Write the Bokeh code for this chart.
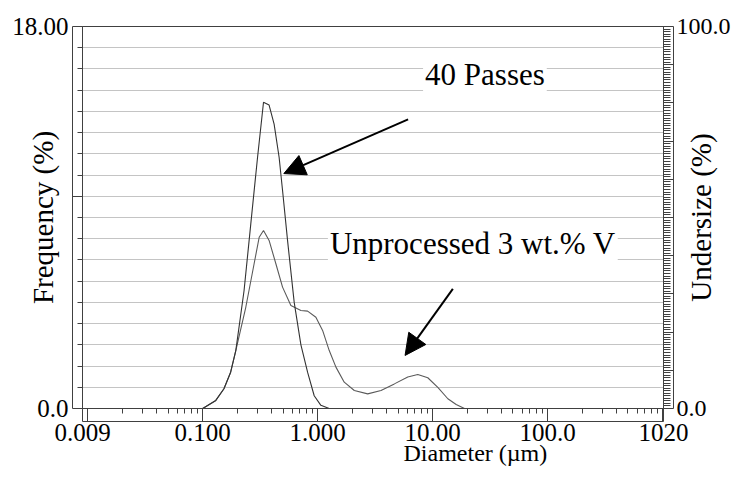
import math
from bokeh.plotting import figure
from bokeh.models import (Range1d, LinearAxis, LogAxis, FixedTicker, Arrow,
                          NormalHead, Title, Label)
from bokeh.core.properties import value
from bokeh.embed import file_html
from bokeh.resources import INLINE

# ---------------- data ----------------
diam_40 = [0.100, 0.130, 0.153, 0.175, 0.194, 0.229, 0.262, 0.300, 0.338, 0.378,
           0.418, 0.462, 0.495, 0.547, 0.625, 0.715, 0.818, 0.933, 1.067, 1.260]
freq_40 = [0.0, 0.38, 0.93, 1.71, 2.73, 5.56, 8.70, 11.84, 14.43, 14.30,
           13.40, 11.84, 10.27, 7.92, 5.00, 3.00, 1.70, 0.60, 0.15, 0.0]

diam_un = [0.100, 0.130, 0.153, 0.175, 0.194, 0.237, 0.280, 0.310, 0.338, 0.378,
           0.433, 0.495, 0.585, 0.715, 0.818, 0.965, 1.104, 1.261, 1.442, 1.703,
           2.083, 2.724, 3.557, 4.647, 6.080, 7.430, 9.080, 11.10, 13.57, 16.03, 18.93]
freq_un = [0.0, 0.38, 0.93, 1.71, 2.73, 4.77, 6.82, 8.07, 8.39, 7.92,
           6.82, 5.72, 4.85, 4.62, 4.59, 4.30, 3.68, 2.73, 1.95, 1.24,
           0.85, 0.69, 0.85, 1.16, 1.48, 1.60, 1.45, 1.00, 0.46, 0.19, 0.0]

x_tick_values = [0.009, 0.1, 1, 10, 100, 1020]
x_tick_labels = ["0.009", "0.100", "1.000", "10.00", "100.0", "1020"]
left_tick_values = [0, 18]
left_tick_labels = ["0.0", "18.00"]
right_tick_values = [0, 100]
right_tick_labels = ["0.0", "100.0"]

annot_text = ["40 Passes", "Unprocessed 3 wt.% V"]
annot_x = [8.26, 1.228]
annot_y = [15.74, 7.78]

arrow_x0 = [6.12, 15.0]
arrow_y0 = [13.62, 5.64]
arrow_x1 = [0.508, 5.76]
arrow_y1 = [11.07, 2.50]

FONT = "'Liberation Serif', 'Times New Roman', Times, serif"
AX = "#404040"

p = figure(width=738, height=486, frame_width=581, frame_height=382,
           x_axis_type="log",
           x_range=Range1d(0.009, 1020), y_range=Range1d(0, 18),
           output_backend="svg", toolbar_location=None,
           min_border_left=82, min_border_right=75,
           min_border_top=26, min_border_bottom=78)
p.extra_y_ranges = {"u": Range1d(0, 100)}
p.outline_line_color = AX
p.background_fill_color = "white"
p.border_fill_color = "white"

p.xgrid.visible = False
p.ygrid.ticker = FixedTicker(ticks=list(range(1, 18)))
p.ygrid.grid_line_color = "#c4c4c4"
p.ygrid.grid_line_width = 1


def plain_inner(ax, ticks, major_out, minor_out):
    ax.major_tick_out = major_out
    ax.major_tick_in = 0
    ax.minor_tick_out = minor_out
    ax.minor_tick_in = 0
    ax.major_label_overrides = {t: "" for t in ticks}
    ax.major_label_text_font_size = "1px"
    ax.major_label_standoff = 0
    ax.axis_line_color = AX
    ax.major_tick_line_color = AX
    ax.minor_tick_line_color = AX


def labelled_outer(ax, size, standoff):
    ax.major_tick_out = 0
    ax.major_tick_in = 0
    ax.minor_tick_out = 0
    ax.minor_tick_in = 0
    ax.major_label_standoff = standoff
    ax.major_label_text_font = FONT
    ax.major_label_text_font_size = size
    ax.major_label_text_color = "black"
    ax.axis_line_color = AX
    ax.axis_label_text_font = FONT
    ax.axis_label_text_font_style = "normal"
    ax.axis_label_text_color = "black"


# bottom axes
xin = p.xaxis[0]
x_major_in = [0.009, 0.01, 0.1, 1, 10, 100, 1000, 1020]
xin.ticker = FixedTicker(ticks=x_major_in,
                         minor_ticks=[k * 10.0 ** n for n in range(-2, 3) for k in range(2, 10)])
plain_inner(xin, x_major_in, 13, 5)
xout = LogAxis(ticker=FixedTicker(ticks=x_tick_values),
               major_label_overrides=dict(zip(x_tick_values, x_tick_labels)))
labelled_outer(xout, "25px", 2)
p.add_layout(xout, "below")

# left axes
yin = p.yaxis[0]
y_major_in = [0, 10, 18]
yin.ticker = FixedTicker(ticks=y_major_in, minor_ticks=list(range(0, 19)))
plain_inner(yin, y_major_in, 10, 5)
yout = LinearAxis(ticker=FixedTicker(ticks=left_tick_values),
                  major_label_overrides=dict(zip(left_tick_values, left_tick_labels)),
                  axis_label="Frequency (%)")
labelled_outer(yout, "25px", 4)
yout.axis_label_text_font_size = "29px"
yout.axis_label_standoff = -50
p.add_layout(yout, "left")

# right axes
r_major_in = list(range(0, 101, 10))
rin = LinearAxis(y_range_name="u",
                 ticker=FixedTicker(ticks=r_major_in,
                                    minor_ticks=[i * 10 / 15 for i in range(151)]))
plain_inner(rin, r_major_in, 10, 7)
p.add_layout(rin, "right")
rout = LinearAxis(y_range_name="u", ticker=FixedTicker(ticks=right_tick_values),
                  major_label_overrides=dict(zip(right_tick_values, right_tick_labels)))
labelled_outer(rout, "24px", 3)
p.add_layout(rout, "right")

# right-hand title, reading bottom to top, in the right side panel
p.add_layout(Label(x=-33, y=191, x_units="screen", y_units="screen",
                   text="Undersize (%)", angle=math.pi / 2, text_align="center",
                   text_baseline="middle", text_font=FONT, text_font_size="29px",
                   text_line_height=0.2, text_color="black"), "right")

# x title, shifted right like the reference
p.add_layout(Title(text="Diameter (µm)", align="left", offset=321, standoff=-12,
                   text_font=FONT, text_font_size="24px", text_font_style="normal",
                   text_color="black"), "below")

# curves
p.line(diam_un, freq_un, line_color="#5a5a5a", line_width=1.1)
p.line(diam_40, freq_40, line_color="#333333", line_width=1.1)

# annotations (white text boxes hide the grid lines behind them)
p.text(x=annot_x, y=annot_y, text=annot_text, text_font=value(FONT),
       text_font_size="31px", text_color="black", text_baseline="alphabetic",
       text_align="left", background_fill_color="white", padding=2)
for xs, ys, xe, ye in zip(arrow_x0, arrow_y0, arrow_x1, arrow_y1):
    p.add_layout(Arrow(end=NormalHead(size=21, fill_color="black", line_color="black"),
                       x_start=xs, y_start=ys, x_end=xe, y_end=ye,
                       line_width=2, line_color="black"))

open("out.html", "w").write(file_html(p, INLINE))
